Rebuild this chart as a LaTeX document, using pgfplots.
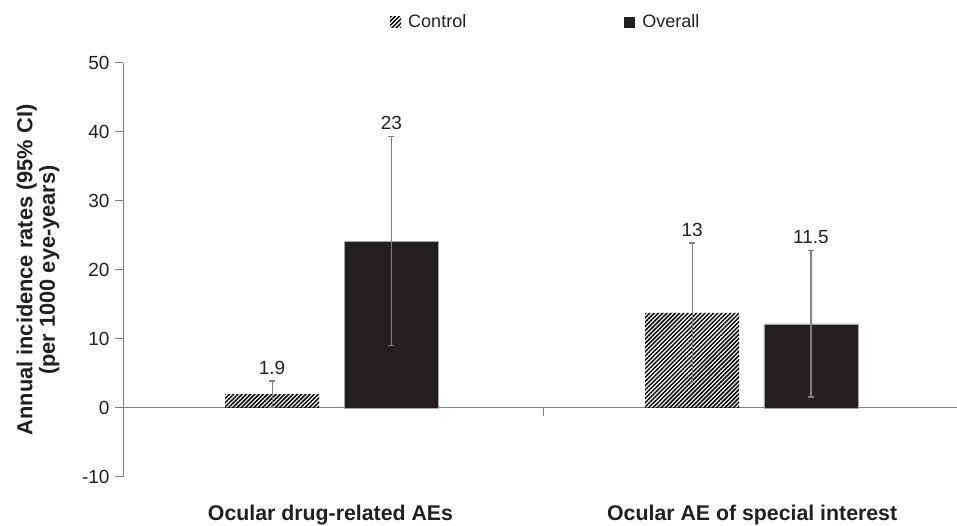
\documentclass[border=0pt]{standalone}
\usepackage{pgfplots}
\pgfplotsset{compat=1.18}
\usepackage{fontspec}
\setmainfont{Liberation Sans}
\usetikzlibrary{patterns.meta}
\definecolor{barblk}{HTML}{231F20}
\definecolor{axgray}{HTML}{808080}
\definecolor{txt}{HTML}{231F20}
\begin{document}
\begin{tikzpicture}
\begin{axis}[
  at={(123pt,49pt)}, anchor=south west,
  scale only axis, width=840pt, height=414pt,
  xmin=0, xmax=2, ymin=-10, ymax=50,
  clip=false,
  axis y line*=left, axis x line*=middle,
  hide obscured x ticks=false, hide obscured y ticks=false,
  axis line style={axgray, line width=1pt},
  tick style={axgray, line width=1pt},
  tick align=outside, major tick length=8pt,
  xtick={1}, xticklabels={},
  ytick={-10,0,10,20,30,40,50},
  /pgf/number format/assume math mode=true,
  ticklabel style={font=\fontsize{19}{21}\selectfont, text=txt},
  yticklabel style={xshift=-2pt},
  ylabel={Annual incidence rates (95\% CI)\\(per 1000 eye-years)},
  ylabel style={at={(axis description cs:-0.1012,0.5)}, anchor=center, align=center,
    font=\fontsize{21.8}{22.5}\selectfont\bfseries, text=txt},
  legend columns=2,
  legend style={at={(axis description cs:0.3179,1.099)}, anchor=west, draw=none, fill=none,
    inner sep=0pt, nodes={inner sep=0pt}, font=\fontsize{18}{20}\selectfont, text=txt,
    /tikz/every odd column/.append style={column sep=7pt},
    /tikz/every even column/.append style={column sep=158pt}},
  legend cell align=left,
  legend image code/.code={\path[#1,draw=none] (0pt,-5.5pt) rectangle (11pt,5.5pt);},
]
\addplot[ybar, bar width=0.224, bar shift=0pt, draw=none,
  pattern={Lines[angle=45,distance=3pt,line width=1.5pt]}, pattern color=black]
  coordinates {(0.355,2.0) (1.355,13.8)};
\addlegendentry{Control}
\addplot[ybar, bar width=0.224, bar shift=0pt, draw=axgray!70, line width=0.5pt, fill=barblk]
  coordinates {(0.639,24.2) (1.638,12.2)};
\addlegendentry{Overall}
% 95% CI error bars
\addplot[forget plot, draw=none, mark=none,
  error bars/.cd, y dir=both, y explicit,
  error bar style={draw=axgray, line width=1.2pt, solid},
  error mark options={rotate=90, draw=axgray, line width=1.2pt, mark size=3pt, solid}]
  coordinates {(0.355,2.0) +- (0,1.9) (1.355,13.8) +- (0,10.1)
               (0.639,24.2) +- (0,15.1) (1.638,12.2) +- (0,10.6)};
\addplot[draw=none, mark=none, forget plot, nodes near coords, point meta=explicit symbolic,
  nodes near coords style={font=\fontsize{19}{21}\selectfont, text=txt, inner sep=0pt, anchor=base, yshift=7pt}]
  coordinates {(0.355,3.9) [1.9] (0.639,39.4) [23] (1.355,23.9) [13] (1.638,22.8) [11.5]};
\node[anchor=base, font=\fontsize{21.3}{23}\selectfont\bfseries, text=txt, yshift=-44pt] at (axis cs:0.494,-10) {Ocular drug-related AEs};
\node[anchor=base, font=\fontsize{21.3}{23}\selectfont\bfseries, text=txt, yshift=-44pt] at (axis cs:1.498,-10) {Ocular AE of special interest};
\end{axis}
\pgfresetboundingbox
\path (0pt,0pt) rectangle (957pt,526pt);
\end{tikzpicture}
\end{document}
